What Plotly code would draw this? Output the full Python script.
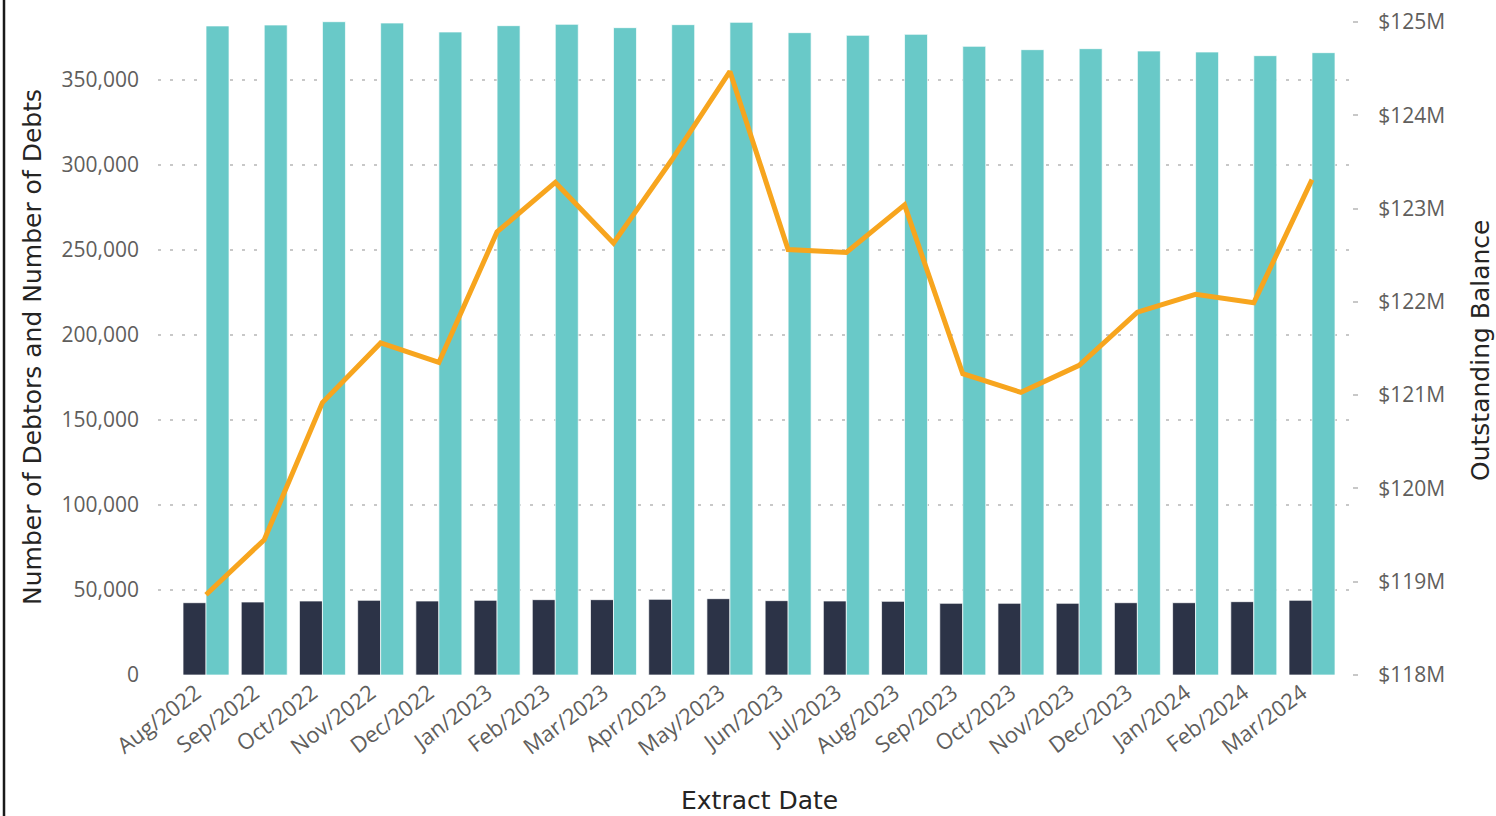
import plotly.graph_objects as go

# Monthly extract dates
months = ["Aug/2022", "Sep/2022", "Oct/2022", "Nov/2022", "Dec/2022",
          "Jan/2023", "Feb/2023", "Mar/2023", "Apr/2023", "May/2023",
          "Jun/2023", "Jul/2023", "Aug/2023", "Sep/2023", "Oct/2023",
          "Nov/2023", "Dec/2023", "Jan/2024", "Feb/2024", "Mar/2024"]

# Counts (left axis)
num_debtors = [42530, 42940, 43530, 43920, 43530, 43920, 44310, 44310, 44510, 44900,
               43730, 43530, 43330, 42160, 42160, 42160, 42530, 42530, 43140, 43920]
num_debts = [381800, 382350, 384300, 383530, 378240, 381960, 382750, 380790, 382550, 383920,
             377840, 376280, 376870, 369810, 367840, 368430, 367060, 366470, 364310, 366080]

# Outstanding balance in $M (right axis)
balance_m = [118.86, 119.45, 120.92, 121.56, 121.35, 122.75, 123.28, 122.63, 123.52, 124.47,
             122.56, 122.53, 123.04, 121.23, 121.03, 121.32, 121.89, 122.08, 121.99, 123.31]

W, H = 1496, 816
ML, MR, MT, MB = 158, 144, 15, 141
PW = W - ML - MR
PH = H - MT - MB

def px_x(p):
    return (p - ML) / PW

def px_y(p):
    return (H - MB - p) / PH

TICK_FONT = dict(family="Open Sans", size=21, color="#605E5C")
XTICK_FONT = dict(family="Open Sans", size=22, color="#605E5C")
TITLE_FONT = dict(family="DejaVu Sans", size=25, color="#252423")

fig = go.Figure()
fig.add_trace(go.Bar(
    x=months, y=num_debtors, name="Number of Debtors",
    marker=dict(color="#2C3347", line=dict(color="rgba(255,255,255,0.7)", width=1)),
))
fig.add_trace(go.Bar(
    x=months, y=num_debts, name="Number of Debts",
    marker=dict(color="#69C9C8", line=dict(color="rgba(255,255,255,0.7)", width=1)),
))
fig.add_trace(go.Scatter(
    x=months, y=balance_m, name="Outstanding Balance", yaxis="y2",
    mode="lines", line=dict(color="#F7A51E", width=5),
))

left_top = 350000 * (H - MB - MT) / 595
right_top = 118 + (H - MB - MT) / 93.286

fig.update_layout(
    width=W, height=H,
    margin=dict(l=ML, r=MR, t=MT, b=MB, autoexpand=False),
    paper_bgcolor="white", plot_bgcolor="white",
    barmode="group", bargap=0.21, bargroupgap=0,
    showlegend=False,
    xaxis=dict(
        type="category", range=[-0.825, 19.687],
        tickangle=-37, tickfont=XTICK_FONT, showgrid=False, zeroline=False,
        showline=False, ticks="", ticklabelshift=-10,
    ),
    yaxis=dict(
        range=[0, left_top], dtick=50000, tickformat=",d",
        tickfont=TICK_FONT, showgrid=True, gridcolor="#C8C8C8", gridwidth=1.5,
        griddash="3px,9px", zeroline=False, showline=False, ticks="",
        ticklabelstandoff=18,
    ),
    yaxis2=dict(
        overlaying="y", side="right", range=[118, right_top], dtick=1,
        tickprefix="$", ticksuffix="M", tickfont=TICK_FONT,
        showgrid=False, zeroline=False, showline=False,
        ticks="outside", ticklen=5, tickcolor="#C8C8C8", tickwidth=1.5,
        ticklabelstandoff=16,
    ),
    annotations=[
        dict(text="Number of Debtors and Number of Debts", xref="paper", yref="paper",
             x=px_x(32), y=px_y(347), textangle=-90, showarrow=False,
             font=TITLE_FONT, xanchor="center", yanchor="middle"),
        dict(text="Outstanding Balance", xref="paper", yref="paper",
             x=px_x(1480), y=px_y(350), textangle=-90, showarrow=False,
             font=TITLE_FONT, xanchor="center", yanchor="middle"),
        dict(text="Extract Date", xref="paper", yref="paper",
             x=px_x(759), y=px_y(800), showarrow=False,
             font=TITLE_FONT, xanchor="center", yanchor="middle"),
    ],
    shapes=[
        dict(type="line", xref="paper", yref="paper",
             x0=px_x(4), x1=px_x(4), y0=px_y(0), y1=px_y(H),
             line=dict(color="#1A1A1A", width=2.5)),
    ],
)

fig.write_html("out.html")
